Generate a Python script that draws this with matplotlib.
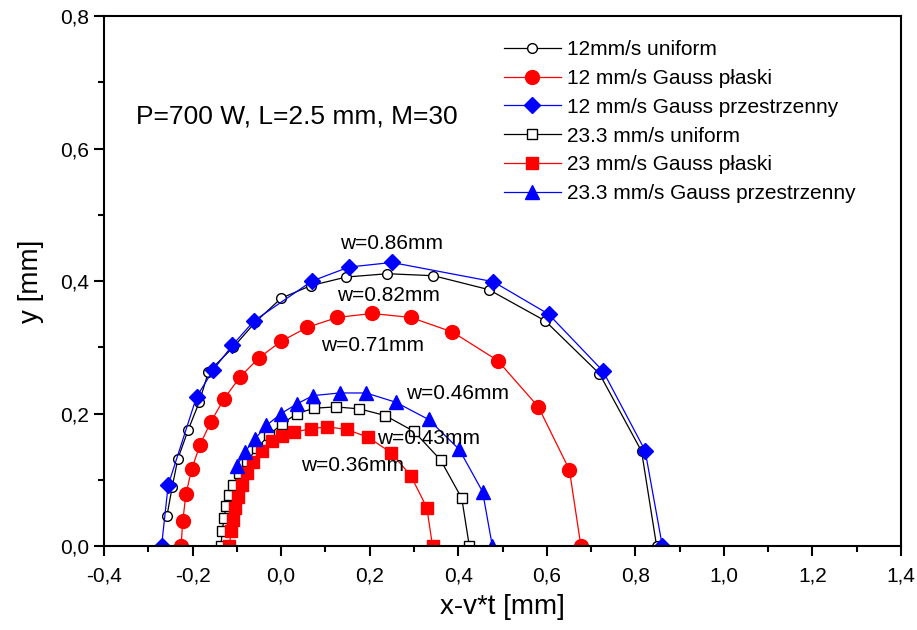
import numpy as np
import matplotlib
matplotlib.use("Agg")
import matplotlib.pyplot as plt
from matplotlib.ticker import MultipleLocator, FuncFormatter

plt.rcParams["font.family"] = ["Liberation Sans", "DejaVu Sans"]

# 12 mm/s uniform (open circles)
x_u12 = [-0.258, -0.246, -0.233, -0.210, -0.185, -0.164, -0.108, -0.058, 0.000, 0.067,
         0.147, 0.240, 0.344, 0.469, 0.596, 0.719, 0.814, 0.848]
y_u12 = [0.045, 0.089, 0.132, 0.175, 0.217, 0.263, 0.300, 0.338, 0.374, 0.393,
         0.406, 0.411, 0.408, 0.387, 0.340, 0.260, 0.143, 0.000]

# 12 mm/s Gauss plaski (red circles)
x_gp12 = [-0.226, -0.222, -0.215, -0.202, -0.183, -0.159, -0.129, -0.093, -0.050, 0.000,
          0.059, 0.127, 0.205, 0.293, 0.387, 0.489, 0.581, 0.651, 0.677]
y_gp12 = [0.000, 0.038, 0.078, 0.116, 0.153, 0.187, 0.222, 0.255, 0.284, 0.309,
          0.330, 0.345, 0.351, 0.345, 0.323, 0.280, 0.210, 0.115, 0.000]

# 12 mm/s Gauss przestrzenny (blue diamonds)
x_gs12 = [-0.270, -0.255, -0.191, -0.153, -0.110, -0.061, 0.070, 0.153, 0.250, 0.479,
          0.604, 0.727, 0.822, 0.861]
y_gs12 = [0.000, 0.092, 0.225, 0.266, 0.303, 0.340, 0.400, 0.421, 0.428, 0.399,
          0.350, 0.264, 0.144, 0.000]

# 23.3 mm/s uniform (open squares)
x_u23 = [-0.136, -0.133, -0.129, -0.124, -0.117, -0.108, -0.095, -0.076, -0.054, -0.028,
         0.001, 0.036, 0.075, 0.123, 0.177, 0.235, 0.300, 0.360, 0.408, 0.425]
y_u23 = [0.000, 0.022, 0.042, 0.060, 0.077, 0.092, 0.110, 0.129, 0.148, 0.167,
         0.184, 0.200, 0.208, 0.210, 0.207, 0.197, 0.173, 0.130, 0.072, 0.000]

# 23 mm/s Gauss plaski (red squares)
x_gp23 = [-0.117, -0.113, -0.108, -0.104, -0.097, -0.089, -0.078, -0.063, -0.044, -0.021,
          0.001, 0.030, 0.067, 0.104, 0.148, 0.197, 0.248, 0.293, 0.329, 0.342]
y_gp23 = [0.000, 0.022, 0.040, 0.057, 0.074, 0.092, 0.110, 0.127, 0.144, 0.158,
          0.166, 0.172, 0.177, 0.180, 0.176, 0.164, 0.141, 0.106, 0.058, 0.000]

# 23.3 mm/s Gauss przestrzenny (blue triangles)
x_gs23 = [-0.100, -0.082, -0.060, -0.033, 0.000, 0.037, 0.072, 0.132, 0.192, 0.259,
          0.333, 0.402, 0.455, 0.477]
y_gs23 = [0.121, 0.142, 0.161, 0.182, 0.200, 0.215, 0.227, 0.231, 0.231, 0.217,
          0.191, 0.146, 0.082, 0.000]

labels = ["12mm/s uniform", "12 mm/s Gauss płaski", "12 mm/s Gauss przestrzenny",
          "23.3 mm/s uniform", "23 mm/s Gauss płaski", "23.3 mm/s Gauss przestrzenny"]

widths = ["w=0.86mm", "w=0.82mm", "w=0.71mm", "w=0.46mm", "w=0.43mm", "w=0.36mm"]
width_pos = [(0.250, 0.456), (0.243, 0.378), (0.207, 0.303), (0.398, 0.230), (0.334, 0.162), (0.162, 0.121)]

fig = plt.figure(figsize=(9.17, 6.3), dpi=100)
ax = fig.add_axes([0.1134, 0.1333, 0.8692, 0.8413])

lw = 0.9
ax.plot(x_u12, y_u12, "-o", color="black", lw=lw, ms=7, mfc="white", mec="black", mew=1.0, label=labels[0])
ax.plot(x_gp12, y_gp12, "-o", color="red", lw=lw, ms=10, mfc="red", mec="red", label=labels[1])
ax.plot(x_gs12, y_gs12, "-D", color="blue", lw=lw, ms=8, mfc="blue", mec="blue", label=labels[2])
ax.plot(x_u23, y_u23, "-s", color="black", lw=lw, ms=7, mfc="white", mec="black", mew=1.0, label=labels[3])
ax.plot(x_gp23, y_gp23, "-s", color="red", lw=lw, ms=8.5, mfc="red", mec="red", label=labels[4])
ax.plot(x_gs23, y_gs23, "-^", color="blue", lw=lw, ms=10, mfc="blue", mec="blue", label=labels[5])

for txt, (tx, ty) in zip(widths, width_pos):
    ax.text(tx, ty, txt, fontsize=15, ha="center", va="center")

ax.text(-0.328, 0.649, "P=700 W, L=2.5 mm, M=30", fontsize=19, ha="left", va="center")

ax.set_xlim(-0.4, 1.4)
ax.set_ylim(0.0, 0.8)
ax.xaxis.set_major_locator(MultipleLocator(0.2))
ax.xaxis.set_minor_locator(MultipleLocator(0.1))
ax.yaxis.set_major_locator(MultipleLocator(0.2))
ax.yaxis.set_minor_locator(MultipleLocator(0.1))
comma = FuncFormatter(lambda v, p: f"{v:.1f}".replace(".", ",").replace("-0,0", "0,0"))
ax.xaxis.set_major_formatter(comma)
ax.yaxis.set_major_formatter(comma)
ax.tick_params(which="major", direction="out", length=7.5, width=1.5, labelsize=15)
ax.tick_params(which="minor", direction="out", length=4, width=1.5)
ax.tick_params(axis="x", which="major", pad=7.5)
ax.tick_params(axis="y", which="major", pad=3)
ax.tick_params(top=False, right=False, which="both")
for s in ax.spines.values():
    s.set_linewidth(1.5)

ax.set_xlabel("x-v*t [mm]", fontsize=20, labelpad=6)
ax.set_ylabel("y [mm]", fontsize=20, labelpad=12)

ax.legend(loc="upper left", bbox_to_anchor=(0.484, 0.982), frameon=False, fontsize=15,
          handlelength=2.7, handletextpad=0.3, labelspacing=0.47, borderpad=0.2)

fig.savefig("out.png", dpi=100)
